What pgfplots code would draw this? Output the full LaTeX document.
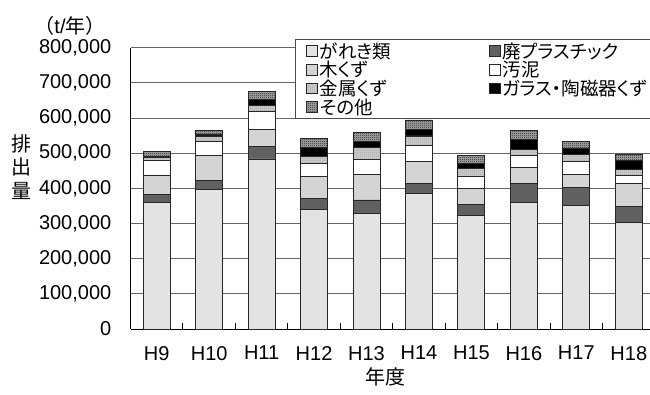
\documentclass[border=0pt]{standalone}
\usepackage{fontspec}
\setmainfont{Liberation Sans}
\newfontfamily\jp{Noto Sans CJK JP}
\newfontfamily\jpp[RawFeature=+palt]{Noto Sans CJK JP}
\usepackage{pgfplots}
\pgfplotsset{compat=1.18}
\usetikzlibrary{patterns}

% fine 1pt checkerboard used for the hatched bar segments
\pgfdeclarepatternformonly{checker}{\pgfpointorigin}{\pgfpoint{2pt}{2pt}}{\pgfpoint{2pt}{2pt}}{%
  \pgfpathrectangle{\pgfpointorigin}{\pgfpoint{1pt}{1pt}}%
  \pgfpathrectangle{\pgfpoint{1pt}{1pt}}{\pgfpoint{1pt}{1pt}}%
  \pgfusepath{fill}}

% 産業廃棄物の種類別排出量 (t/年), 平成9年度〜18年度
\pgfplotstableread{
x gareki haipla moku odei kinzoku garasu sonota
0 360300 23600 54100 40600  8600  4800 12200
1 397300 24500 71100 39800 16200  5700  9400
2 483500 35000 50300 49200 17100 19000 20800
3 340400 31300 61400 38100 20800 24700 25600
4 329000 37900 73000 43600 32100 17100 25600
5 385800 29400 60600 46600 26500 19900 25600
6 323300 32200 43500 36100 20800 16200 20800
7 360300 54900 44700 33000 19000 28400 25600
8 351800 51200 35800 37000 21000 18000 19000
9 304300 45500 64500 21700 19000 25600 16200
}\wastedata

\begin{document}
\begin{tikzpicture}[x=1pt,y=1pt]
\begin{axis}[
  at={(130.5pt,-329pt)}, anchor=south west,
  scale only axis, width=524.5pt, height=281.3pt,
  ybar stacked, bar width=27pt,
  xmin=-0.5, xmax=9.5, ymin=0, ymax=800000,
  ytick={0,100000,...,800000},
  scaled y ticks=false,
  /pgf/number format/.cd, fixed, 1000 sep={,}, assume math mode=true,
  /pgfplots/.cd,
  xtick={0,...,9},
  xticklabels={H9,H10,H11,H12,H13,H14,H15,H16,H17,H18},
  minor xtick={0.5,1.5,...,8.5},
  major tick length=0pt,
  minor tick length=6pt,
  tick align=inside,
  minor tick style={black, line width=1pt},
  axis x line*=bottom, axis y line*=left,
  axis line style={black, line width=1pt},
  ymajorgrids, grid style={black!60, line width=1pt},
  tick label style={font=\fontsize{20}{22}\selectfont},
  yticklabel style={anchor=east, inner sep=0pt, xshift=-19pt},
  xticklabel style={anchor=north, inner sep=0pt, yshift=-17pt},
  every axis plot/.append style={draw=black!85, line width=0.9pt},
  legend columns=2,
  legend cell align=left,
  legend image code/.code={\draw[#1] (0pt,-5.25pt) rectangle (10.5pt,5.25pt);},
  legend style={
    at={(0.3136,1.0309)}, anchor=north west,
    draw=black!70, line width=1pt, fill=white,
    inner xsep=11pt, inner ysep=2.5pt, row sep=0.6pt,
    font=\jpp\fontsize{18.5}{19.5}\selectfont,
    nodes={inner ysep=0.5pt},
    /tikz/every even column/.append style={column sep=96pt},
  },
]
\addplot[fill=black!11] table[x=x, y=gareki] {\wastedata};
\addplot[fill=black!62] table[x=x, y=haipla] {\wastedata};
\addplot[fill=black!17] table[x=x, y=moku] {\wastedata};
\addplot[fill=white] table[x=x, y=odei] {\wastedata};
\addplot[fill=black!20, postaction={pattern=checker, pattern color=black!35}] table[x=x, y=kinzoku] {\wastedata};
\addplot[fill=black] table[x=x, y=garasu] {\wastedata};
\addplot[fill=black!35, postaction={pattern=checker, pattern color=black!85}] table[x=x, y=sonota] {\wastedata};
\legend{がれき類,廃プラスチック,木くず,汚泥,金属くず,ガラス・陶磁器くず,その他}
\end{axis}
\node[font=\jp\fontsize{20}{23.5}\selectfont, align=center] at (21,-167) {排\\出\\量};
\node[font=\fontsize{20}{22}\selectfont] at (70,-25.5) {{\jp （}t/{\jp 年）}};
\node[font=\jp\fontsize{20}{22}\selectfont] at (385,-377) {年度};
\pgfresetboundingbox
\path[use as bounding box] (0,0) rectangle (650,-394);
\end{tikzpicture}
\end{document}
